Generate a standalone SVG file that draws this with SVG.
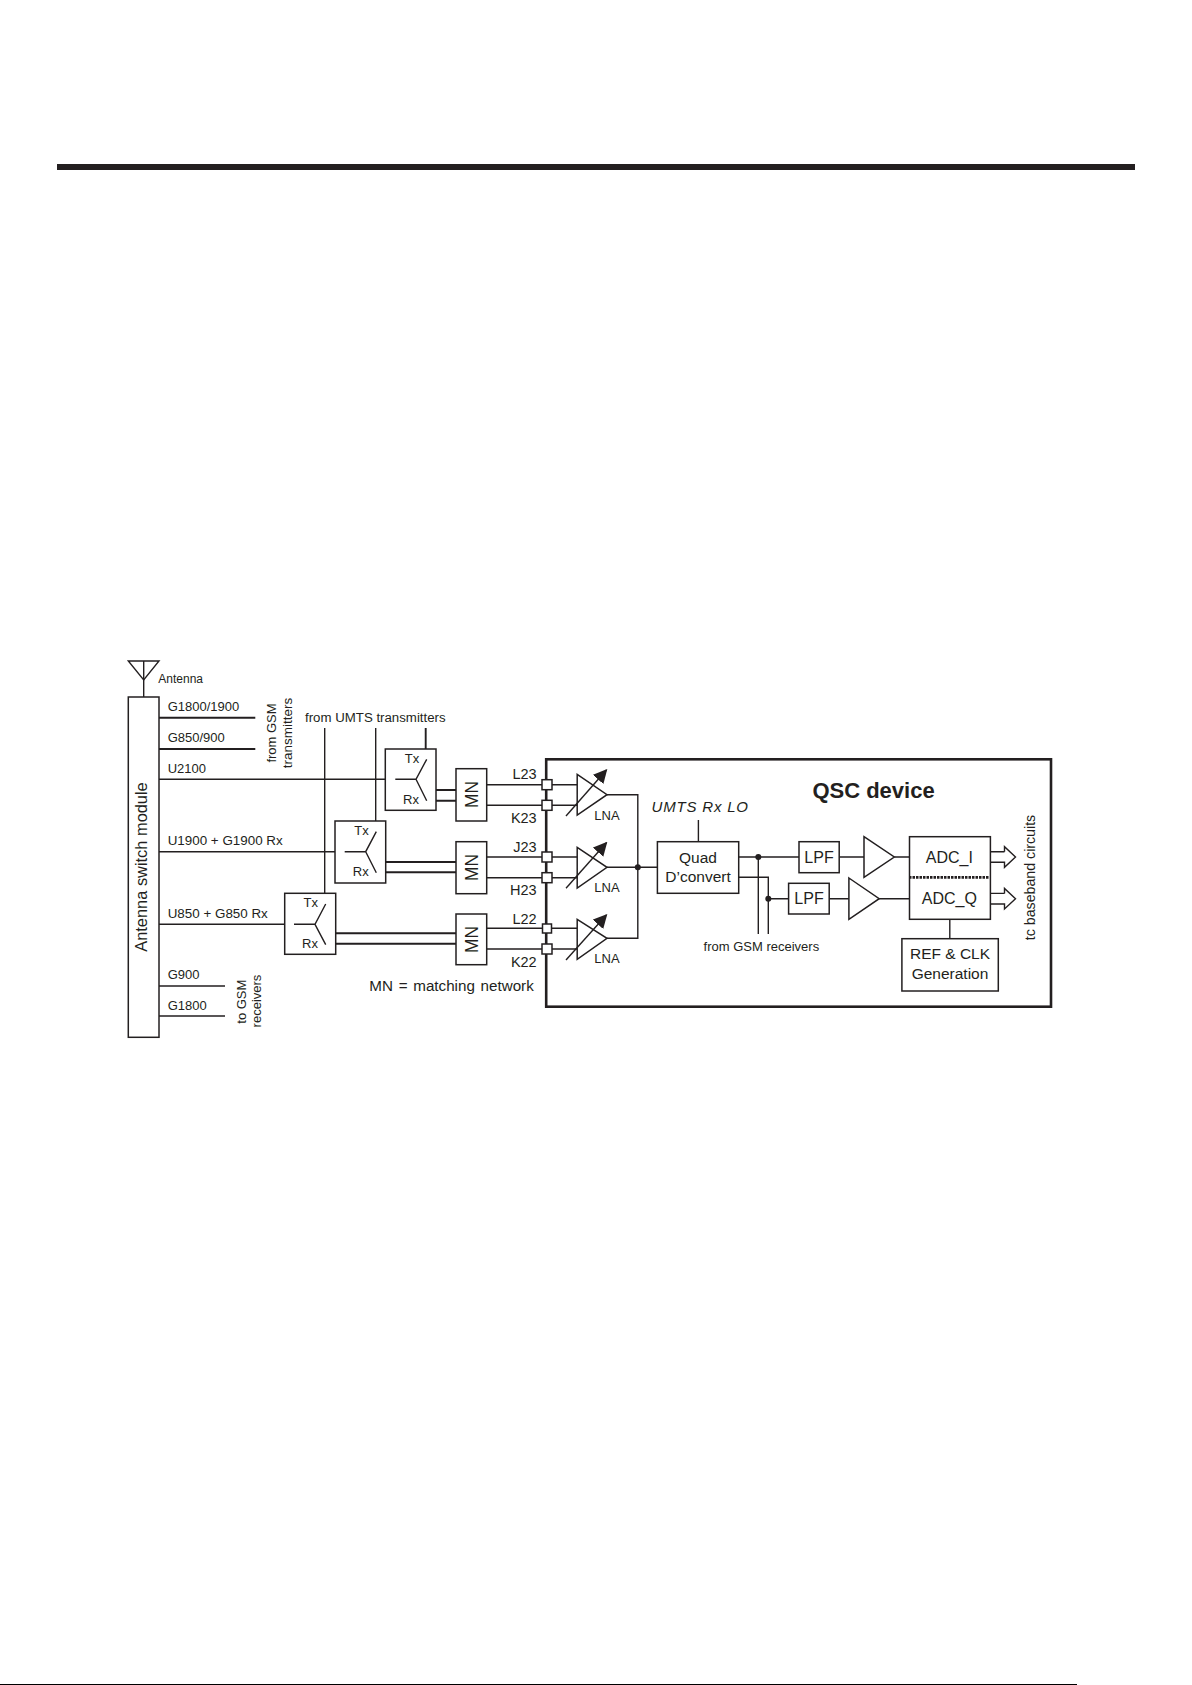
<svg xmlns="http://www.w3.org/2000/svg" width="1192" height="1685" viewBox="0 0 1192 1685">
<defs>
<style>
text{font-family:"Liberation Sans",Arial,sans-serif;font-size:13px;fill:#231f20}
.b{fill:#fff;stroke:#231f20;stroke-width:1.5}
.n{fill:none;stroke:#231f20;stroke-width:1.4}
.h{fill:none;stroke:#231f20;stroke-width:1.9}
.m{text-anchor:middle}
.e{text-anchor:end;font-size:14.5px}
.mn{text-anchor:middle;font-size:19px}
.lna{text-anchor:middle;font-size:13px}
.a{fill:#231f20}
.t{font-size:15.5px;text-anchor:middle}
</style>
<marker id="ah" viewBox="0 0 10 10" refX="9" refY="5" markerWidth="14" markerHeight="14" markerUnits="userSpaceOnUse" orient="auto"><path d="M0 0L10 5L0 10Z" fill="#231f20"/></marker>
</defs>
<rect width="1192" height="1685" fill="#fff"/>
<rect x="57" y="164" width="1078" height="6" fill="#231f20"/>
<rect x="0" y="1684" width="1077" height="1" fill="#000"/>

<g id="connectors">
<path class="n" d="M143.7 661V697"/>
<path class="h" d="M159 717.7H255.3M159 749H255.3"/>
<path class="n" d="M159 779.3H385.3M159 851.7H335M159 924.3H284.7M159 986H225M159 1016H225"/>
<path class="n" d="M324.7 728V893.3M375.7 728V821"/>
<path class="h" d="M425.7 728V749"/>
<path class="h" d="M436 790H456M436 800.7H456M385.7 862H456M385.7 872.3H456M335.7 933.3H456M335.7 943.7H456"/>
<path class="n" d="M486.7 784.7H577M486.7 805.3H577M486.7 857H577M486.7 877.7H577M486.7 928.3H577M486.7 949H577"/>
<path class="n" d="M607 794.7H637.8V938.3H607M607 867.3H657.4"/>
<path class="n" d="M698.4 820V841.7"/>
<path class="n" d="M738.7 857H799M738.7 877.3H768.3V934M758.3 857V934M768.3 898.7H788.6"/>
<path class="n" d="M839.2 857H864M829.2 898.7H848.9M894.3 857H909.5M879.2 898.7H909.5M949.8 919.3V938.7"/>
<path class="n" d="M1004.5 851.7H990.4M1004.5 851.7V846.7L1015.5 857L1004.5 867.3V862.3H990.4"/>
<path class="n" d="M1004.5 893.4H990.4M1004.5 893.4V888.4L1015.5 898.7L1004.5 909V904H990.4"/>
<circle class="a" cx="637.8" cy="867.3" r="3"/>
<circle class="a" cx="758.3" cy="857" r="3"/>
<circle class="a" cx="768.3" cy="898.7" r="3"/>
</g>

<g id="antenna"><path class="n" d="M128.3 661H159L143.7 680Z"/><text x="158.3" y="682.7" style="font-size:12px">Antenna</text></g>

<g id="switch-module">
<rect class="b" x="128.3" y="697" width="30.7" height="340.3"/>
<text class="m" transform="translate(146.7 867) rotate(-90)" style="font-size:16.4px">Antenna switch module</text>
</g>

<g id="labels-left">
<text x="167.7" y="711">G1800/1900</text>
<text x="167.7" y="742.3">G850/900</text>
<text x="167.7" y="772.7">U2100</text>
<text x="167.7" y="845" style="font-size:13.4px">U1900 + G1900 Rx</text>
<text x="167.7" y="917.7" style="font-size:13.4px">U850 + G850 Rx</text>
<text x="167.7" y="979">G900</text>
<text x="167.7" y="1010">G1800</text>
<text class="m" transform="translate(276 733) rotate(-90)">from GSM</text>
<text class="m" transform="translate(292 733) rotate(-90)" style="font-size:13.5px">transmitters</text>
<text class="m" transform="translate(246 1001.7) rotate(-90)">to GSM</text>
<text class="m" transform="translate(260.7 1001) rotate(-90)">receivers</text>
<text x="305" y="721.7" style="font-size:13.25px">from UMTS transmitters</text>
<text x="369.3" y="990.7" style="font-size:15.2px;word-spacing:1.5px">MN = matching network</text>
</g>

<g id="duplexer-1">
<rect class="b" x="385.3" y="749" width="50.7" height="61.3"/>
<path class="n" d="M395.3 779.3H416L426.7 759.3M416 779.3L426.7 800.7"/>
<text class="m" x="412" y="762.7">Tx</text><text class="m" x="411" y="804">Rx</text>
</g>
<g id="duplexer-2">
<rect class="b" x="335" y="821" width="50.7" height="62"/>
<path class="n" d="M344.7 851.7H365.7L376.3 831.7M365.7 851.7L376.3 872.7"/>
<text class="m" x="361.5" y="835">Tx</text><text class="m" x="360.7" y="876">Rx</text>
</g>
<g id="duplexer-3">
<rect class="b" x="284.7" y="893.3" width="51" height="61"/>
<path class="n" d="M294 924.3H315L325.7 904M315 924.3L325.7 944.7"/>
<text class="m" x="310.7" y="907.3">Tx</text><text class="m" x="310" y="947.7">Rx</text>
</g>

<g id="mn-1"><rect class="b" x="456" y="768.7" width="30.7" height="52.3"/><text class="mn" transform="translate(478.3 794.5) rotate(-90)" textLength="27" lengthAdjust="spacingAndGlyphs">MN</text></g>
<g id="mn-2"><rect class="b" x="456" y="841.7" width="30.7" height="52"/><text class="mn" transform="translate(478.3 867.5) rotate(-90)" textLength="27" lengthAdjust="spacingAndGlyphs">MN</text></g>
<g id="mn-3"><rect class="b" x="456" y="914" width="30.7" height="50.7"/><text class="mn" transform="translate(478.3 939.5) rotate(-90)" textLength="27" lengthAdjust="spacingAndGlyphs">MN</text></g>

<g id="qsc-device">
<rect x="546.2" y="759.3" width="504.8" height="247.4" fill="none" stroke="#231f20" stroke-width="2.6"/>
<text x="812.4" y="798.3" style="font-size:22px;font-weight:bold">QSC device</text>
</g>

<g id="pins">
<text class="e" x="536.7" y="779">L23</text>
<text class="e" x="536.7" y="822.7">K23</text>
<text class="e" x="536.7" y="851.7">J23</text>
<text class="e" x="536.7" y="895">H23</text>
<text class="e" x="536.7" y="924">L22</text>
<text class="e" x="536.7" y="966.7">K22</text>
<rect class="b" x="542" y="779.7" width="10" height="10"/>
<rect class="b" x="542" y="800.3" width="10" height="10"/>
<rect class="b" x="542" y="852" width="10" height="10"/>
<rect class="b" x="542" y="872.7" width="10" height="10"/>
<rect class="b" x="542.5" y="924" width="9" height="9"/>
<rect class="b" x="542" y="944" width="10" height="10"/>
</g>

<g id="lna-1"><path class="b" style="fill:none" d="M577.2 774.3L607 794.7L577.2 815Z"/><path class="n" d="M566 816L606.4 770" marker-end="url(#ah)"/><text class="lna" x="607" y="820">LNA</text></g>
<g id="lna-2"><path class="b" style="fill:none" d="M577.2 847.3L607 867.3L577.2 888Z"/><path class="n" d="M566 888.3L606.4 842.7" marker-end="url(#ah)"/><text class="lna" x="607" y="892">LNA</text></g>
<g id="lna-3"><path class="b" style="fill:none" d="M577.2 919.3L607 938.3L577.2 959.3Z"/><path class="n" d="M566 960L606.4 915" marker-end="url(#ah)"/><text class="lna" x="607" y="963">LNA</text></g>

<g id="quad">
<rect class="b" x="657.4" y="841.7" width="81.3" height="51.6"/>
<text class="t" x="698" y="862.7">Quad</text>
<text class="t" x="698" y="881.7">D’convert</text>
<text x="651.6" y="812" style="font-size:15px;font-style:italic;letter-spacing:.8px">UMTS Rx LO</text>
</g>
<g id="lpf-i"><rect class="b" x="799" y="841.7" width="40.2" height="31"/><text class="t" x="819" y="862.7" style="font-size:16px">LPF</text></g>
<g id="lpf-q"><rect class="b" x="788.6" y="883.3" width="40.6" height="30.7"/><text class="t" x="809" y="904" style="font-size:16px">LPF</text></g>
<g id="amp-i"><path class="b" d="M864 836.7L894.3 857L864 877.3Z"/></g>
<g id="amp-q"><path class="b" d="M848.9 878L879.2 898.7L848.9 919.3Z"/></g>
<g id="adc">
<rect class="b" x="909.5" y="836.7" width="80.9" height="82.6"/>
<path d="M909 877.3H989" fill="none" stroke="#231f20" stroke-width="2.8" stroke-dasharray="2.5 1"/>
<text class="t" x="949.4" y="862.7" style="font-size:16px">ADC_I</text>
<text class="t" x="949.4" y="904" style="font-size:16px">ADC_Q</text>
</g>
<g id="ref-clk">
<rect class="b" x="901.9" y="938.7" width="96.4" height="52.3"/>
<text class="t" x="950" y="959.3">REF &amp; CLK</text>
<text class="t" x="950" y="978.7">Generation</text>
</g>
<g id="labels-right">
<text class="m" x="761.4" y="950.7">from GSM receivers</text>
<text class="m" transform="translate(1034.5 877.5) rotate(-90)" style="font-size:14.2px">tc baseband circuits</text>
</g>
</svg>
